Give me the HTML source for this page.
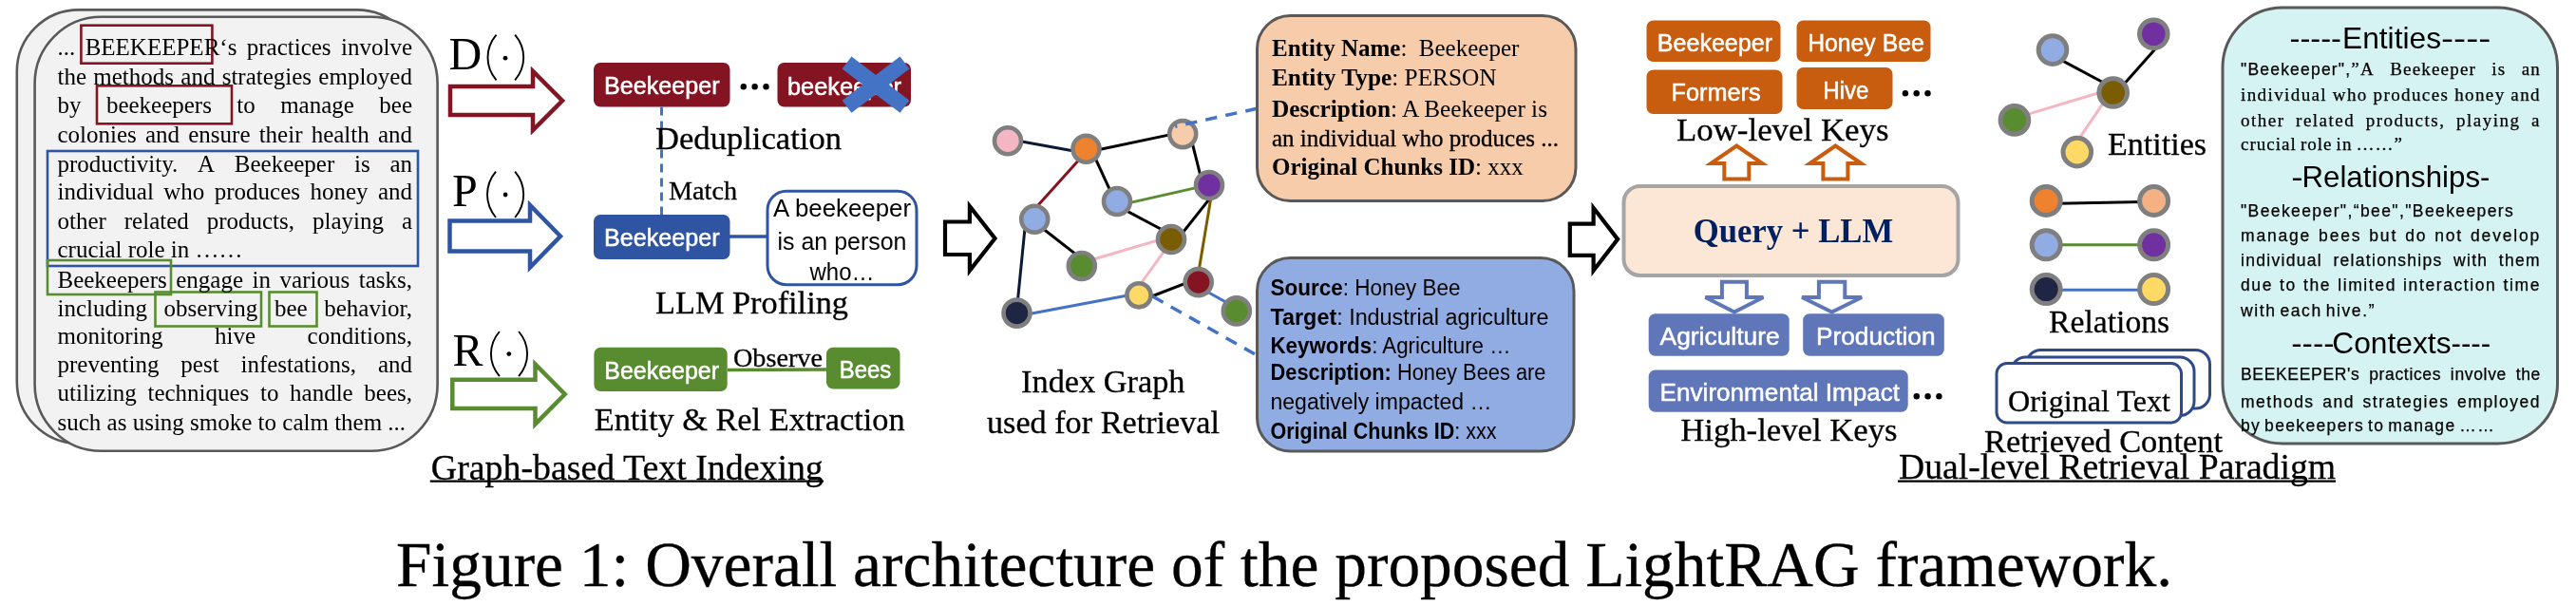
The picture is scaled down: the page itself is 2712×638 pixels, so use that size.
<!DOCTYPE html>
<html><head><meta charset="utf-8"><style>
html,body{margin:0;padding:0;background:#fff;}
#wrap{position:relative;width:2712px;height:638px;overflow:hidden;background:#fff;will-change:transform;}
svg{position:absolute;left:0;top:0;}
</style></head><body><div id="wrap">
<svg width="2712" height="638" viewBox="0 0 2712 638">
<rect x="17.8" y="10.4" width="423" height="456.5" rx="65" fill="#F2F2F2" stroke="#595959" stroke-width="2.6" />
<rect x="36.6" y="17.8" width="424" height="457" rx="70" fill="#F2F2F2" stroke="#595959" stroke-width="2.6" />
<text x="60.5" y="270.8" font-family='"Liberation Serif", serif' font-size="25" fill="#000" font-weight="normal" text-anchor="start" stroke="none">crucial role in ……</text>
<text x="60.5" y="452.8" font-family='"Liberation Serif", serif' font-size="25" fill="#000" font-weight="normal" text-anchor="start" stroke="none">such as using smoke to calm them ...</text>
<rect x="85.4" y="26.7" width="138" height="40" rx="0" fill="none" stroke="#851422" stroke-width="2.6" />
<rect x="102" y="90.3" width="142" height="40" rx="0" fill="none" stroke="#851422" stroke-width="2.6" />
<rect x="50" y="159" width="390" height="121" rx="0" fill="none" stroke="#2F55A2" stroke-width="2.6" />
<rect x="50" y="274" width="130" height="36" rx="0" fill="none" stroke="#598C31" stroke-width="2.6" />
<rect x="163.5" y="307.5" width="111.5" height="36" rx="0" fill="none" stroke="#598C31" stroke-width="2.6" />
<rect x="283.5" y="307.5" width="50" height="36" rx="0" fill="none" stroke="#598C31" stroke-width="2.6" />
<text x="472.5" y="73" font-family='"Liberation Serif", serif' font-size="48" fill="#000" font-weight="normal" text-anchor="start" stroke="#000" stroke-width="0">D</text>
<path d="M522.5,36.7 C510.5,51.010000000000005 510.5,70.09 522.5,84.4" fill="none" stroke="#000" stroke-width="1.9" />
<path d="M542.2,36.7 C554.2,51.010000000000005 554.2,70.09 542.2,84.4" fill="none" stroke="#000" stroke-width="1.9" />
<circle cx="532" cy="61.2" r="2.4" fill="#000" stroke="none" stroke-width="0"/>
<path d="M474,91 L561,91 L561,75 L592,106.0 L561,137 L561,121 L474,121 Z" fill="#fff" stroke="#851422" stroke-width="4.5" stroke-linejoin="miter"/>
<text x="476" y="216.8" font-family='"Liberation Serif", serif' font-size="48" fill="#000" font-weight="normal" text-anchor="start" stroke="#000" stroke-width="0">P</text>
<path d="M522.0,180.7 C510.0,195.19 510.0,214.51 522.0,229" fill="none" stroke="#000" stroke-width="1.9" />
<path d="M542.2,180.7 C554.2,195.19 554.2,214.51 542.2,229" fill="none" stroke="#000" stroke-width="1.9" />
<circle cx="532.1" cy="205" r="2.4" fill="#000" stroke="none" stroke-width="0"/>
<path d="M473.5,232.5 L558,232.5 L558,216 L590,248.75 L558,281.5 L558,264.5 L473.5,264.5 Z" fill="#fff" stroke="#2F55A2" stroke-width="4.5" stroke-linejoin="miter"/>
<text x="476.5" y="385" font-family='"Liberation Serif", serif' font-size="48" fill="#000" font-weight="normal" text-anchor="start" stroke="#000" stroke-width="0">R</text>
<path d="M525.9,349 C513.9,363.15999999999997 513.9,382.03999999999996 525.9,396.2" fill="none" stroke="#000" stroke-width="1.9" />
<path d="M546.1,349 C558.1,363.15999999999997 558.1,382.03999999999996 546.1,396.2" fill="none" stroke="#000" stroke-width="1.9" />
<circle cx="535.8" cy="372.6" r="2.4" fill="#000" stroke="none" stroke-width="0"/>
<path d="M476.3,399.7 L563.5,399.7 L563.5,383.5 L594.7,415.0 L563.5,446.5 L563.5,430 L476.3,430 Z" fill="#fff" stroke="#598C31" stroke-width="4.5" stroke-linejoin="miter"/>
<rect x="625" y="66" width="143.5" height="46.5" rx="7" fill="#851422" stroke="none" stroke-width="0" />
<text x="636" y="99" font-family='"Liberation Sans", sans-serif' font-size="26" fill="#fff" font-weight="normal" text-anchor="start" textLength="121.5" lengthAdjust="spacingAndGlyphs" stroke="#fff" stroke-width="0.5">Beekeeper</text>
<circle cx="782.8" cy="91.2" r="3.2" fill="#000"/>
<circle cx="794.65" cy="91.2" r="3.2" fill="#000"/>
<circle cx="806.5" cy="91.2" r="3.2" fill="#000"/>
<rect x="818.5" y="66" width="140.5" height="46.5" rx="7" fill="#851422" stroke="none" stroke-width="0" />
<text x="829" y="100" font-family='"Liberation Sans", sans-serif' font-size="26" fill="#fff" font-weight="normal" text-anchor="start" textLength="120" lengthAdjust="spacingAndGlyphs" stroke="#fff" stroke-width="0.5">beekeeper</text>
<line x1="891.5" y1="66" x2="952.5" y2="112.2" stroke="#4472C4" stroke-width="16.4" />
<line x1="952.5" y1="66" x2="891.5" y2="112.2" stroke="#4472C4" stroke-width="16.4" />
<line x1="696.5" y1="112.5" x2="696.5" y2="227.5" stroke="#4472C4" stroke-width="3" stroke-dasharray="9,6"/>
<text x="690" y="156.5" font-family='"Liberation Serif", serif' font-size="34.5" fill="#000" font-weight="normal" text-anchor="start" textLength="196" lengthAdjust="spacingAndGlyphs" stroke="#000" stroke-width="0.3">Deduplication</text>
<text x="704" y="210" font-family='"Liberation Serif", serif' font-size="28" fill="#000" font-weight="normal" text-anchor="start" textLength="72" lengthAdjust="spacingAndGlyphs" stroke="#000" stroke-width="0.3">Match</text>
<rect x="625" y="226" width="143.5" height="47" rx="7" fill="#2F55A2" stroke="none" stroke-width="0" />
<text x="636" y="259" font-family='"Liberation Sans", sans-serif' font-size="26" fill="#fff" font-weight="normal" text-anchor="start" textLength="121.5" lengthAdjust="spacingAndGlyphs" stroke="#fff" stroke-width="0.5">Beekeeper</text>
<line x1="768" y1="249" x2="808" y2="249" stroke="#2F55A2" stroke-width="3.5" />
<rect x="808" y="201.2" width="157" height="98.5" rx="20" fill="#fff" stroke="#2F55A2" stroke-width="3" />
<text x="886.5" y="227.5" font-family='"Liberation Sans", sans-serif' font-size="25" fill="#000" font-weight="normal" text-anchor="middle" textLength="145" lengthAdjust="spacingAndGlyphs" >A beekeeper</text>
<text x="886.5" y="262.5" font-family='"Liberation Sans", sans-serif' font-size="25" fill="#000" font-weight="normal" text-anchor="middle" textLength="136" lengthAdjust="spacingAndGlyphs" >is an person</text>
<text x="886.5" y="295" font-family='"Liberation Sans", sans-serif' font-size="25" fill="#000" font-weight="normal" text-anchor="middle" textLength="68" lengthAdjust="spacingAndGlyphs" >who…</text>
<text x="690" y="329.5" font-family='"Liberation Serif", serif' font-size="34.5" fill="#000" font-weight="normal" text-anchor="start" textLength="203" lengthAdjust="spacingAndGlyphs" stroke="#000" stroke-width="0.3">LLM Profiling</text>
<rect x="625.4" y="365.8" width="140.3" height="46.2" rx="7" fill="#598C31" stroke="none" stroke-width="0" />
<text x="636.3" y="398.8" font-family='"Liberation Sans", sans-serif' font-size="26" fill="#fff" font-weight="normal" text-anchor="start" textLength="120.7" lengthAdjust="spacingAndGlyphs" stroke="#fff" stroke-width="0.5">Beekeeper</text>
<line x1="766" y1="389.5" x2="870" y2="389" stroke="#598C31" stroke-width="3.5" />
<text x="772" y="386.3" font-family='"Liberation Serif", serif' font-size="28" fill="#000" font-weight="normal" text-anchor="start" textLength="94" lengthAdjust="spacingAndGlyphs" stroke="#000" stroke-width="0.3">Observe</text>
<rect x="870" y="365.8" width="77.5" height="43.6" rx="7" fill="#598C31" stroke="none" stroke-width="0" />
<text x="883.8" y="397.8" font-family='"Liberation Sans", sans-serif' font-size="26" fill="#fff" font-weight="normal" text-anchor="start" textLength="54.5" lengthAdjust="spacingAndGlyphs" stroke="#fff" stroke-width="0.5">Bees</text>
<text x="625.7" y="453.3" font-family='"Liberation Serif", serif' font-size="34.5" fill="#000" font-weight="normal" text-anchor="start" textLength="327" lengthAdjust="spacingAndGlyphs" stroke="#000" stroke-width="0.3">Entity &amp; Rel Extraction</text>
<text x="453.8" y="505" font-family='"Liberation Serif", serif' font-size="38" fill="#000" font-weight="normal" text-anchor="start" textLength="413" lengthAdjust="spacingAndGlyphs" stroke="#000" stroke-width="0.3">Graph-based Text Indexing</text>
<line x1="452.8" y1="506.6" x2="867" y2="506.6" stroke="#000" stroke-width="2.1" />
<path d="M995,233.5 L1020.9,233.5 L1020.9,217.1 L1047.5,251.0 L1020.9,284.9 L1020.9,268 L995,268 Z" fill="#fff" stroke="#000" stroke-width="4.2" stroke-linejoin="miter"/>
<path d="M1652.8,235.6 L1677.6,235.6 L1677.6,218.8 L1703.1,251.85 L1677.6,284.9 L1677.6,268.9 L1652.8,268.9 Z" fill="#fff" stroke="#000" stroke-width="4.2" stroke-linejoin="miter"/>
<line x1="1070.21" y1="147.95" x2="1134.79" y2="159.65" stroke="#0D1A33" stroke-width="3" />
<line x1="1152.45" y1="158.55" x2="1238.65" y2="140.35" stroke="#000" stroke-width="3" />
<line x1="1140.69" y1="163.1" x2="1086.01" y2="223.7" stroke="#851422" stroke-width="3" />
<line x1="1150.97" y1="161.94" x2="1171.63" y2="206.76" stroke="#000" stroke-width="3" />
<line x1="1253.6" y1="144.11" x2="1265.7" y2="192.39" stroke="#000" stroke-width="3" />
<line x1="1185.37" y1="214.34" x2="1268.33" y2="195.66" stroke="#598C31" stroke-width="3" />
<line x1="1181.12" y1="219.42" x2="1231.78" y2="246.28" stroke="#000" stroke-width="3" />
<line x1="1277.06" y1="204.82" x2="1242.34" y2="248.48" stroke="#000" stroke-width="3" />
<line x1="1275.65" y1="203.6" x2="1261.35" y2="289.4" stroke="#7A5D00" stroke-width="3" />
<line x1="1094.48" y1="238.0" x2="1136.72" y2="270.9" stroke="#000" stroke-width="3" />
<line x1="1079.49" y1="235.33" x2="1070.91" y2="321.97" stroke="#0D1A33" stroke-width="3" />
<line x1="1145.29" y1="274.78" x2="1226.81" y2="250.72" stroke="#F4B6C2" stroke-width="3" />
<line x1="1230.68" y1="257.41" x2="1197.62" y2="303.49" stroke="#F4B6C2" stroke-width="3" />
<line x1="1079.72" y1="331.3" x2="1191.18" y2="310.3" stroke="#4472C4" stroke-width="3" />
<line x1="1207.37" y1="314.02" x2="1254.93" y2="295.68" stroke="#000" stroke-width="3" />
<line x1="1265.98" y1="304.41" x2="1297.52" y2="321.89" stroke="#4472C4" stroke-width="3" />
<circle cx="1061" cy="148.2" r="14" fill="#F4B6C2" stroke="#7F7F7F" stroke-width="4.6"/>
<circle cx="1143.5" cy="156.8" r="14" fill="#EE822F" stroke="#7F7F7F" stroke-width="4.6"/>
<circle cx="1245.2" cy="141.1" r="14" fill="#F7CCAA" stroke="#7F7F7F" stroke-width="4.6"/>
<circle cx="1176" cy="212" r="14" fill="#91ACE2" stroke="#7F7F7F" stroke-width="4.6"/>
<circle cx="1273" cy="195" r="14" fill="#7030A0" stroke="#7F7F7F" stroke-width="4.6"/>
<circle cx="1089.2" cy="230.8" r="14" fill="#91ACE2" stroke="#7F7F7F" stroke-width="4.6"/>
<circle cx="1233" cy="252" r="14" fill="#7A5D00" stroke="#7F7F7F" stroke-width="4.6"/>
<circle cx="1138.8" cy="280" r="14" fill="#598C31" stroke="#7F7F7F" stroke-width="4.6"/>
<circle cx="1070.5" cy="329.6" r="14" fill="#1E2644" stroke="#7F7F7F" stroke-width="4.6"/>
<circle cx="1199" cy="310.8" r="12.6" fill="#FFD966" stroke="#7F7F7F" stroke-width="4.6"/>
<circle cx="1261.7" cy="297.1" r="14" fill="#851422" stroke="#7F7F7F" stroke-width="4.6"/>
<circle cx="1301.8" cy="327.4" r="14" fill="#598C31" stroke="#7F7F7F" stroke-width="4.6"/>
<line x1="1237.3" y1="133.2" x2="1325" y2="113.9" stroke="#4472C4" stroke-width="3.5" stroke-dasharray="12.3,9.2" stroke-dashoffset="10.3"/>
<line x1="1213.4" y1="312" x2="1321" y2="372.8" stroke="#4472C4" stroke-width="3.5" stroke-dasharray="12.8,9.4"/>
<text x="1161.3" y="412.5" font-family='"Liberation Serif", serif' font-size="34.5" fill="#000" font-weight="normal" text-anchor="middle" textLength="172.5" lengthAdjust="spacingAndGlyphs" stroke="#000" stroke-width="0.3">Index Graph</text>
<text x="1161.5" y="456" font-family='"Liberation Serif", serif' font-size="34.5" fill="#000" font-weight="normal" text-anchor="middle" textLength="245" lengthAdjust="spacingAndGlyphs" stroke="#000" stroke-width="0.3">used for Retrieval</text>
<rect x="1323.5" y="16.5" width="335.5" height="195" rx="35" fill="#F7CCAA" stroke="#595959" stroke-width="3" />
<text x="1339" y="59" font-family='"Liberation Serif", serif' font-size="25" fill="#000" xml:space="preserve"><tspan font-weight="bold">Entity Name</tspan><tspan font-weight="normal">:  Beekeeper</tspan></text>
<text x="1339" y="90" font-family='"Liberation Serif", serif' font-size="25" fill="#000" textLength="236.6" lengthAdjust="spacingAndGlyphs" xml:space="preserve"><tspan font-weight="bold">Entity Type</tspan><tspan font-weight="normal">: PERSON</tspan></text>
<text x="1339" y="122.5" font-family='"Liberation Serif", serif' font-size="25" fill="#000" textLength="290" lengthAdjust="spacingAndGlyphs" xml:space="preserve"><tspan font-weight="bold">Description</tspan><tspan font-weight="normal">: A Beekeeper is</tspan></text>
<text x="1339" y="154" font-family='"Liberation Serif", serif' font-size="25" fill="#000" font-weight="normal" text-anchor="start" stroke="#000" stroke-width="0.3">an individual who produces ...</text>
<text x="1339" y="184" font-family='"Liberation Serif", serif' font-size="25" fill="#000" xml:space="preserve"><tspan font-weight="bold">Original Chunks ID</tspan><tspan font-weight="normal">: xxx</tspan></text>
<rect x="1323.5" y="271.5" width="333.5" height="203.5" rx="35" fill="#91ACE2" stroke="#595959" stroke-width="3" />
<text x="1337.5" y="311" font-family='"Liberation Sans", sans-serif' font-size="23" fill="#000" textLength="200" lengthAdjust="spacingAndGlyphs" xml:space="preserve"><tspan font-weight="bold">Source</tspan><tspan font-weight="normal">: Honey Bee</tspan></text>
<text x="1337.5" y="341.5" font-family='"Liberation Sans", sans-serif' font-size="23" fill="#000" textLength="293" lengthAdjust="spacingAndGlyphs" xml:space="preserve"><tspan font-weight="bold">Target</tspan><tspan font-weight="normal">: Industrial agriculture</tspan></text>
<text x="1337.5" y="371.5" font-family='"Liberation Sans", sans-serif' font-size="23" fill="#000" textLength="253" lengthAdjust="spacingAndGlyphs" xml:space="preserve"><tspan font-weight="bold">Keywords</tspan><tspan font-weight="normal">: Agriculture …</tspan></text>
<text x="1337.5" y="400" font-family='"Liberation Sans", sans-serif' font-size="23" fill="#000" textLength="290" lengthAdjust="spacingAndGlyphs" xml:space="preserve"><tspan font-weight="bold">Description:</tspan><tspan font-weight="normal"> Honey Bees are</tspan></text>
<text x="1337.5" y="431" font-family='"Liberation Sans", sans-serif' font-size="23" fill="#000" textLength="233" lengthAdjust="spacingAndGlyphs" xml:space="preserve"><tspan font-weight="normal">negatively impacted …</tspan></text>
<text x="1337.5" y="461.5" font-family='"Liberation Sans", sans-serif' font-size="23" fill="#000" textLength="238" lengthAdjust="spacingAndGlyphs" xml:space="preserve"><tspan font-weight="bold">Original Chunks ID</tspan><tspan font-weight="normal">: xxx</tspan></text>
<rect x="1733.5" y="21.5" width="141" height="43.5" rx="7" fill="#C85D10" stroke="none" stroke-width="0" />
<text x="1744.8" y="54" font-family='"Liberation Sans", sans-serif' font-size="26" fill="#fff" font-weight="normal" text-anchor="start" textLength="121.2" lengthAdjust="spacingAndGlyphs" stroke="#fff" stroke-width="0.5">Beekeeper</text>
<rect x="1891.5" y="21.5" width="141" height="43.5" rx="7" fill="#C85D10" stroke="none" stroke-width="0" />
<text x="1903.2" y="54" font-family='"Liberation Sans", sans-serif' font-size="26" fill="#fff" font-weight="normal" text-anchor="start" textLength="122.5" lengthAdjust="spacingAndGlyphs" stroke="#fff" stroke-width="0.5">Honey Bee</text>
<rect x="1733.5" y="73.5" width="143" height="46.5" rx="7" fill="#C85D10" stroke="none" stroke-width="0" />
<text x="1759.6" y="106" font-family='"Liberation Sans", sans-serif' font-size="26" fill="#fff" font-weight="normal" text-anchor="start" textLength="94" lengthAdjust="spacingAndGlyphs" stroke="#fff" stroke-width="0.5">Formers</text>
<rect x="1891.5" y="71" width="101" height="44" rx="7" fill="#C85D10" stroke="none" stroke-width="0" />
<text x="1919.3" y="103.6" font-family='"Liberation Sans", sans-serif' font-size="26" fill="#fff" font-weight="normal" text-anchor="start" textLength="48.2" lengthAdjust="spacingAndGlyphs" stroke="#fff" stroke-width="0.5">Hive</text>
<circle cx="2005.9" cy="98.3" r="3.2" fill="#000"/>
<circle cx="2017.7" cy="98.3" r="3.2" fill="#000"/>
<circle cx="2029.5" cy="98.3" r="3.2" fill="#000"/>
<text x="1765" y="147.5" font-family='"Liberation Serif", serif' font-size="34.5" fill="#000" font-weight="normal" text-anchor="start" textLength="223.5" lengthAdjust="spacingAndGlyphs" stroke="#000" stroke-width="0.3">Low-level Keys</text>
<path d="M1828.3,153.5 L1855.3,172.0 L1841.3,172.0 L1841.3,188.5 L1815.3,188.5 L1815.3,172.0 L1801.3,172.0 Z" fill="#fff" stroke="#C85D10" stroke-width="4" />
<path d="M1932.4,153.5 L1959.4,172.0 L1945.4,172.0 L1945.4,188.5 L1919.4,188.5 L1919.4,172.0 L1905.4,172.0 Z" fill="#fff" stroke="#C85D10" stroke-width="4" />
<rect x="1709.5" y="196" width="352" height="94" rx="17" fill="#FCE6D6" stroke="#A5A5A5" stroke-width="4" />
<text x="1782.7" y="255.4" font-family='"Liberation Serif", serif' font-size="35" fill="#002060" font-weight="bold" text-anchor="start" textLength="210.5" lengthAdjust="spacingAndGlyphs" >Query + LLM</text>
<path d="M1812.9,296.7 L1838.9,296.7 L1838.9,313.0 L1856.4,313.0 L1825.9,328.5 L1795.4,313.0 L1812.9,313.0 Z" fill="#fff" stroke="#5F76B9" stroke-width="4" />
<path d="M1914.8999999999999,296.7 L1942.3,296.7 L1942.3,313.0 L1960.1,313.0 L1928.6,328.5 L1897.1,313.0 L1914.8999999999999,313.0 Z" fill="#fff" stroke="#5F76B9" stroke-width="4" />
<rect x="1735.7" y="330.2" width="148" height="44.5" rx="7" fill="#5F76B9" stroke="none" stroke-width="0" />
<text x="1747.6" y="363" font-family='"Liberation Sans", sans-serif' font-size="26" fill="#fff" font-weight="normal" text-anchor="start" textLength="126" lengthAdjust="spacingAndGlyphs" stroke="#fff" stroke-width="0.5">Agriculture</text>
<rect x="1898.2" y="330.2" width="148.6" height="44.5" rx="7" fill="#5F76B9" stroke="none" stroke-width="0" />
<text x="1912" y="363" font-family='"Liberation Sans", sans-serif' font-size="26" fill="#fff" font-weight="normal" text-anchor="start" textLength="125.5" lengthAdjust="spacingAndGlyphs" stroke="#fff" stroke-width="0.5">Production</text>
<rect x="1735.7" y="389.5" width="273" height="44.2" rx="7" fill="#5F76B9" stroke="none" stroke-width="0" />
<text x="1747.6" y="421.7" font-family='"Liberation Sans", sans-serif' font-size="26" fill="#fff" font-weight="normal" text-anchor="start" textLength="252.5" lengthAdjust="spacingAndGlyphs" stroke="#fff" stroke-width="0.5">Environmental Impact</text>
<circle cx="2017.8" cy="417.2" r="3.2" fill="#000"/>
<circle cx="2029.6" cy="417.2" r="3.2" fill="#000"/>
<circle cx="2041.3999999999999" cy="417.2" r="3.2" fill="#000"/>
<text x="1769.2" y="464" font-family='"Liberation Serif", serif' font-size="34.5" fill="#000" font-weight="normal" text-anchor="start" textLength="228.4" lengthAdjust="spacingAndGlyphs" stroke="#000" stroke-width="0.3">High-level Keys</text>
<line x1="2167.51" y1="61.87" x2="2220.19" y2="90.03" stroke="#000" stroke-width="3" />
<line x1="2272.2" y1="48.12" x2="2233.3" y2="91.68" stroke="#000" stroke-width="3" />
<line x1="2131.95" y1="121.13" x2="2216.35" y2="95.77" stroke="#F4B6C2" stroke-width="3" />
<line x1="2184.83" y1="151.87" x2="2216.87" y2="104.63" stroke="#F4B6C2" stroke-width="3" />
<circle cx="2161" cy="52.6" r="14.8" fill="#91ACE2" stroke="#7F7F7F" stroke-width="5"/>
<circle cx="2267.3" cy="35.8" r="14.8" fill="#7030A0" stroke="#7F7F7F" stroke-width="5"/>
<circle cx="2224.7" cy="97.5" r="14.8" fill="#7A5D00" stroke="#7F7F7F" stroke-width="5"/>
<circle cx="2120.9" cy="126.4" r="14.8" fill="#598C31" stroke="#7F7F7F" stroke-width="5"/>
<circle cx="2186.8" cy="160.1" r="14.8" fill="#FFD966" stroke="#7F7F7F" stroke-width="5"/>
<text x="2219" y="162.9" font-family='"Liberation Serif", serif' font-size="34.5" fill="#000" font-weight="normal" text-anchor="start" textLength="104" lengthAdjust="spacingAndGlyphs" stroke="#000" stroke-width="0.3">Entities</text>
<line x1="2166.0" y1="214.21" x2="2256.7" y2="212.49" stroke="#000" stroke-width="3" />
<line x1="2166.0" y1="257.8" x2="2256.7" y2="257.8" stroke="#598C31" stroke-width="3" />
<line x1="2166.0" y1="305.2" x2="2256.7" y2="305.2" stroke="#4472C4" stroke-width="3" />
<circle cx="2154.2" cy="211.5" r="15" fill="#EE822F" stroke="#7F7F7F" stroke-width="5"/>
<circle cx="2267.6" cy="211.5" r="15" fill="#F4B183" stroke="#7F7F7F" stroke-width="5"/>
<circle cx="2154.2" cy="257.8" r="15" fill="#91ACE2" stroke="#7F7F7F" stroke-width="5"/>
<circle cx="2267.6" cy="257.8" r="15" fill="#7030A0" stroke="#7F7F7F" stroke-width="5"/>
<circle cx="2154.2" cy="304.6" r="15" fill="#1E2644" stroke="#7F7F7F" stroke-width="5"/>
<circle cx="2267.6" cy="304.6" r="15" fill="#FFD966" stroke="#7F7F7F" stroke-width="5"/>
<text x="2157.1" y="349.8" font-family='"Liberation Serif", serif' font-size="34.5" fill="#000" font-weight="normal" text-anchor="start" textLength="127" lengthAdjust="spacingAndGlyphs" stroke="#000" stroke-width="0.3">Relations</text>
<rect x="2133.5" y="368.5" width="193" height="61.5" rx="15" fill="#fff" stroke="#2F4A8A" stroke-width="3" />
<rect x="2117.5" y="376" width="192.5" height="61.5" rx="15" fill="#fff" stroke="#2F4A8A" stroke-width="3" />
<rect x="2102" y="382.5" width="194.5" height="62.5" rx="11" fill="#fff" stroke="#2F4A8A" stroke-width="3" />
<text x="2114" y="432.5" font-family='"Liberation Serif", serif' font-size="32" fill="#000" font-weight="normal" text-anchor="start" textLength="171" lengthAdjust="spacingAndGlyphs" stroke="#000" stroke-width="0.3">Original Text</text>
<text x="2089" y="476" font-family='"Liberation Serif", serif' font-size="34.5" fill="#000" font-weight="normal" text-anchor="start" textLength="251" lengthAdjust="spacingAndGlyphs" stroke="#000" stroke-width="0.3">Retrieved Content</text>
<text x="1999" y="504.2" font-family='"Liberation Serif", serif' font-size="38" fill="#000" font-weight="normal" text-anchor="start" textLength="460" lengthAdjust="spacingAndGlyphs" stroke="#000" stroke-width="0.3">Dual-level Retrieval Paradigm</text>
<line x1="1998" y1="506.6" x2="2459" y2="506.6" stroke="#000" stroke-width="2.1" />
<rect x="2340" y="8" width="352.5" height="459" rx="63" fill="#D4F3F2" stroke="#595959" stroke-width="3" />
<text x="2410.5" y="51" font-family='"Liberation Sans", sans-serif' font-size="31.5" fill="#000" font-weight="normal" text-anchor="start" textLength="54.5" lengthAdjust="spacingAndGlyphs" >-----</text>
<text x="2466" y="51" font-family='"Liberation Sans", sans-serif' font-size="31.5" fill="#000" font-weight="normal" text-anchor="start" textLength="104" lengthAdjust="spacingAndGlyphs" >Entities</text>
<text x="2570" y="51" font-family='"Liberation Sans", sans-serif' font-size="31.5" fill="#000" font-weight="normal" text-anchor="start" textLength="52.3" lengthAdjust="spacingAndGlyphs" >----</text>
<text x="2412.3" y="196.7" font-family='"Liberation Sans", sans-serif' font-size="31.5" fill="#000" font-weight="normal" text-anchor="start" textLength="12.3" lengthAdjust="spacingAndGlyphs" >-</text>
<text x="2423.5" y="196.7" font-family='"Liberation Sans", sans-serif' font-size="31.5" fill="#000" font-weight="normal" text-anchor="start" textLength="187.5" lengthAdjust="spacingAndGlyphs" >Relationships</text>
<text x="2611" y="196.7" font-family='"Liberation Sans", sans-serif' font-size="31.5" fill="#000" font-weight="normal" text-anchor="start" textLength="10.3" lengthAdjust="spacingAndGlyphs" >-</text>
<text x="2412.3" y="372" font-family='"Liberation Sans", sans-serif' font-size="31.5" fill="#000" font-weight="normal" text-anchor="start" textLength="45.2" lengthAdjust="spacingAndGlyphs" >----</text>
<text x="2455.3" y="372" font-family='"Liberation Sans", sans-serif' font-size="31.5" fill="#000" font-weight="normal" text-anchor="start" textLength="125.2" lengthAdjust="spacingAndGlyphs" >Contexts</text>
<text x="2580.5" y="372" font-family='"Liberation Sans", sans-serif' font-size="31.5" fill="#000" font-weight="normal" text-anchor="start" textLength="41.7" lengthAdjust="spacingAndGlyphs" >----</text>
<text x="417" y="617" font-family='"Liberation Serif", serif' font-size="67.5" fill="#000" font-weight="normal" text-anchor="start" textLength="1870" lengthAdjust="spacingAndGlyphs" stroke="#000" stroke-width="0.3">Figure 1: Overall architecture of the proposed LightRAG framework.</text>
</svg>
<div style="position:absolute;left:60.5px;top:36.02px;width:373.5px;height:28.7px;display:flex;justify-content:space-between;font-family:'Liberation Serif', serif;font-size:25px;line-height:normal;white-space:pre;color:#000"><span>...</span><span>BEEKEEPER‘s</span><span>practices</span><span>involve</span></div>
<div style="position:absolute;left:60.5px;top:66.53px;width:373.5px;height:28.7px;display:flex;justify-content:space-between;font-family:'Liberation Serif', serif;font-size:25px;line-height:normal;white-space:pre;color:#000"><span>the</span><span>methods</span><span>and</span><span>strategies</span><span>employed</span></div>
<div style="position:absolute;left:60.5px;top:97.32px;width:373.5px;height:28.7px;display:flex;justify-content:space-between;font-family:'Liberation Serif', serif;font-size:25px;line-height:normal;white-space:pre;color:#000"><span>by</span><span>beekeepers</span><span>to</span><span>manage</span><span>bee</span></div>
<div style="position:absolute;left:60.5px;top:128.03px;width:373.5px;height:28.7px;display:flex;justify-content:space-between;font-family:'Liberation Serif', serif;font-size:25px;line-height:normal;white-space:pre;color:#000"><span>colonies</span><span>and</span><span>ensure</span><span>their</span><span>health</span><span>and</span></div>
<div style="position:absolute;left:60.5px;top:159.03px;width:373.5px;height:28.7px;display:flex;justify-content:space-between;font-family:'Liberation Serif', serif;font-size:25px;line-height:normal;white-space:pre;color:#000"><span>productivity.</span><span>A</span><span>Beekeeper</span><span>is</span><span>an</span></div>
<div style="position:absolute;left:60.5px;top:188.03px;width:373.5px;height:28.7px;display:flex;justify-content:space-between;font-family:'Liberation Serif', serif;font-size:25px;line-height:normal;white-space:pre;color:#000"><span>individual</span><span>who</span><span>produces</span><span>honey</span><span>and</span></div>
<div style="position:absolute;left:60.5px;top:218.53px;width:373.5px;height:28.7px;display:flex;justify-content:space-between;font-family:'Liberation Serif', serif;font-size:25px;line-height:normal;white-space:pre;color:#000"><span>other</span><span>related</span><span>products,</span><span>playing</span><span>a</span></div>
<div style="position:absolute;left:60.5px;top:280.53px;width:373.5px;height:28.7px;display:flex;justify-content:space-between;font-family:'Liberation Serif', serif;font-size:25px;line-height:normal;white-space:pre;color:#000"><span>Beekeepers</span><span>engage</span><span>in</span><span>various</span><span>tasks,</span></div>
<div style="position:absolute;left:60.5px;top:310.53px;width:373.5px;height:28.7px;display:flex;justify-content:space-between;font-family:'Liberation Serif', serif;font-size:25px;line-height:normal;white-space:pre;color:#000"><span>including</span><span>observing</span><span>bee</span><span>behavior,</span></div>
<div style="position:absolute;left:60.5px;top:339.53px;width:373.5px;height:28.7px;display:flex;justify-content:space-between;font-family:'Liberation Serif', serif;font-size:25px;line-height:normal;white-space:pre;color:#000"><span>monitoring</span><span>hive</span><span>conditions,</span></div>
<div style="position:absolute;left:60.5px;top:369.53px;width:373.5px;height:28.7px;display:flex;justify-content:space-between;font-family:'Liberation Serif', serif;font-size:25px;line-height:normal;white-space:pre;color:#000"><span>preventing</span><span>pest</span><span>infestations,</span><span>and</span></div>
<div style="position:absolute;left:60.5px;top:399.53px;width:373.5px;height:28.7px;display:flex;justify-content:space-between;font-family:'Liberation Serif', serif;font-size:25px;line-height:normal;white-space:pre;color:#000"><span>utilizing</span><span>techniques</span><span>to</span><span>handle</span><span>bees,</span></div>
<div style="position:absolute;left:2359px;top:61.57px;width:316px;display:flex;justify-content:space-between;font-family:'Liberation Serif', serif;font-size:19px;letter-spacing:1.2px;line-height:normal;white-space:pre;color:#000;-webkit-text-stroke:0.25px #000"><span><span style="font-family:'Liberation Sans', sans-serif;font-size:17.5px;letter-spacing:1.2px">"Beekeeper",</span>”A</span><span>Beekeeper</span><span>is</span><span>an</span></div>
<div style="position:absolute;left:2359px;top:89.37px;width:316px;display:flex;justify-content:space-between;font-family:'Liberation Serif', serif;font-size:19px;letter-spacing:1.4px;line-height:normal;white-space:pre;color:#000;-webkit-text-stroke:0.25px #000"><span>individual</span><span>who</span><span>produces</span><span>honey</span><span>and</span></div>
<div style="position:absolute;left:2359px;top:115.67px;width:316px;display:flex;justify-content:space-between;font-family:'Liberation Serif', serif;font-size:19px;letter-spacing:1.5px;line-height:normal;white-space:pre;color:#000;-webkit-text-stroke:0.25px #000"><span>other</span><span>related</span><span>products,</span><span>playing</span><span>a</span></div>
<div style="position:absolute;left:2359px;top:141.47px;width:320px;display:flex;justify-content:flex-start;gap:4.2px;font-family:'Liberation Serif', serif;font-size:19px;letter-spacing:1.0px;line-height:normal;white-space:pre;color:#000;-webkit-text-stroke:0.25px #000"><span>crucial</span><span>role</span><span>in</span><span>……”</span></div>
<div style="position:absolute;left:2359px;top:211.76px;width:320px;display:flex;justify-content:flex-start;gap:3.9px;font-family:'Liberation Sans', sans-serif;font-size:17.5px;letter-spacing:1.4px;line-height:normal;white-space:pre;color:#000;-webkit-text-stroke:0.25px #000"><span>"Beekeeper",“bee","Beekeepers</span></div>
<div style="position:absolute;left:2359px;top:237.66px;width:316px;display:flex;justify-content:space-between;font-family:'Liberation Sans', sans-serif;font-size:17.5px;letter-spacing:1.8px;line-height:normal;white-space:pre;color:#000;-webkit-text-stroke:0.25px #000"><span>manage</span><span>bees</span><span>but</span><span>do</span><span>not</span><span>develop</span></div>
<div style="position:absolute;left:2359px;top:263.56px;width:316px;display:flex;justify-content:space-between;font-family:'Liberation Sans', sans-serif;font-size:17.5px;letter-spacing:1.3px;line-height:normal;white-space:pre;color:#000;-webkit-text-stroke:0.25px #000"><span>individual</span><span>relationships</span><span>with</span><span>them</span></div>
<div style="position:absolute;left:2359px;top:289.66px;width:316px;display:flex;justify-content:space-between;font-family:'Liberation Sans', sans-serif;font-size:17.5px;letter-spacing:1.6px;line-height:normal;white-space:pre;color:#000;-webkit-text-stroke:0.25px #000"><span>due</span><span>to</span><span>the</span><span>limited</span><span>interaction</span><span>time</span></div>
<div style="position:absolute;left:2359px;top:316.66px;width:320px;display:flex;justify-content:flex-start;gap:3.9px;font-family:'Liberation Sans', sans-serif;font-size:17.5px;letter-spacing:1.6px;line-height:normal;white-space:pre;color:#000;-webkit-text-stroke:0.25px #000"><span>with</span><span>each</span><span>hive.”</span></div>
<div style="position:absolute;left:2359px;top:383.96px;width:316px;display:flex;justify-content:space-between;font-family:'Liberation Sans', sans-serif;font-size:17.5px;letter-spacing:0.67px;line-height:normal;white-space:pre;color:#000;-webkit-text-stroke:0.25px #000"><span>BEEKEEPER's</span><span>practices</span><span>involve</span><span>the</span></div>
<div style="position:absolute;left:2359px;top:412.86px;width:316px;display:flex;justify-content:space-between;font-family:'Liberation Sans', sans-serif;font-size:17.5px;letter-spacing:1.5px;line-height:normal;white-space:pre;color:#000;-webkit-text-stroke:0.25px #000"><span>methods</span><span>and</span><span>strategies</span><span>employed</span></div>
<div style="position:absolute;left:2359px;top:438.46px;width:320px;display:flex;justify-content:flex-start;gap:3.9px;font-family:'Liberation Sans', sans-serif;font-size:17.5px;letter-spacing:1.35px;line-height:normal;white-space:pre;color:#000;-webkit-text-stroke:0.25px #000"><span>by</span><span>beekeepers</span><span>to</span><span>manage</span><span>……</span></div>
</div></body></html>
